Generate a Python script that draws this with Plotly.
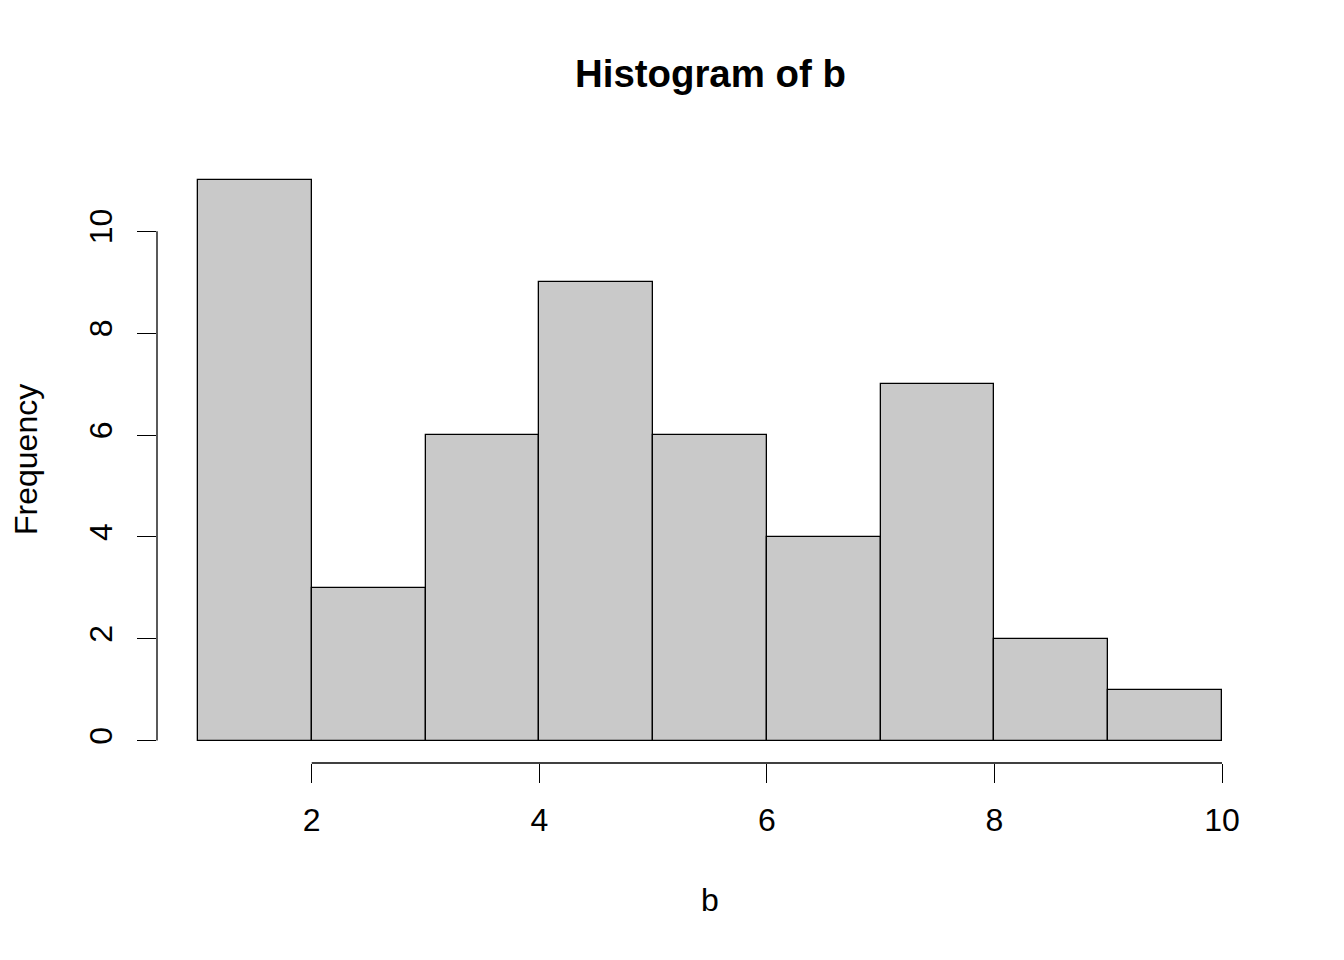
import plotly.graph_objects as go

# Data
bin_left = [1, 2, 3, 4, 5, 6, 7, 8, 9]
bin_right = [2, 3, 4, 5, 6, 7, 8, 9, 10]
counts = [11, 3, 6, 9, 6, 4, 7, 2, 1]
x_ticks = [2, 4, 6, 8, 10]
y_ticks = [0, 2, 4, 6, 8, 10]

centers = [(a + b) / 2 for a, b in zip(bin_left, bin_right)]
widths = [b - a for a, b in zip(bin_left, bin_right)]

FONT = "Liberation Sans, Arial, Helvetica, sans-serif"
W, H = 1344, 960
L, R, T, B = 157, 81, 158, 197
PH = H - T - B
PW = W - L - R

fig = go.Figure()
fig.add_trace(go.Bar(
    x=centers, y=counts, width=widths,
    marker=dict(color="#C9C9C9", line=dict(color="black", width=1.3)),
    hoverinfo="x+y", showlegend=False,
))

def ppx(px):
    return (px - L) / PW

def ppy(py):
    return (H - B - py) / PH

fig.update_layout(
    width=W, height=H,
    margin=dict(l=L, r=R, t=T, b=B, pad=0),
    plot_bgcolor="white", paper_bgcolor="white",
    font=dict(family=FONT, size=32, color="black"),
    bargap=0,
    xaxis=dict(
        range=[0.64, 10.36], showgrid=False, zeroline=False, showline=False,
        tickmode="array", tickvals=x_ticks, ticktext=[str(v) for v in x_ticks],
        ticks="outside", ticklen=19, tickwidth=1.3, tickcolor="black",
        tickfont=dict(family=FONT, size=32, color="black"),
        ticklabelstandoff=10,
    ),
    yaxis=dict(
        range=[-0.44, 11.44], showgrid=False, zeroline=False, showline=False,
        tickmode="array", tickvals=y_ticks, ticktext=[str(v) for v in y_ticks],
        ticks="outside", ticklen=19, tickwidth=1.3, tickcolor="black",
        tickangle=-90,
        tickfont=dict(family=FONT, size=32, color="black"),
        ticklabelstandoff=12,
    ),
    shapes=[
        dict(type="line", xref="x", yref="paper", x0=x_ticks[0], x1=x_ticks[-1], y0=0, y1=0,
             line=dict(color="black", width=1.3)),
        dict(type="line", xref="paper", yref="y", x0=0, x1=0, y0=y_ticks[0], y1=y_ticks[-1],
             line=dict(color="black", width=1.3)),
    ],
    annotations=[
        dict(text="<b>Histogram of b</b>", xref="paper", yref="paper", x=0.5, y=ppy(74),
             xanchor="center", yanchor="middle", showarrow=False,
             font=dict(family=FONT, size=38.4, color="black")),
        dict(text="b", xref="paper", yref="paper", x=0.5, y=ppy(900),
             xanchor="center", yanchor="middle", showarrow=False,
             font=dict(family=FONT, size=32, color="black")),
        dict(text="Frequency", xref="paper", yref="paper", x=ppx(26), y=ppy(460),
             xanchor="center", yanchor="middle", showarrow=False, textangle=-90,
             font=dict(family=FONT, size=32, color="black")),
    ],
)

fig.write_html("out.html", config={"displayModeBar": False},
               post_script="document.body.style.margin='0';")
